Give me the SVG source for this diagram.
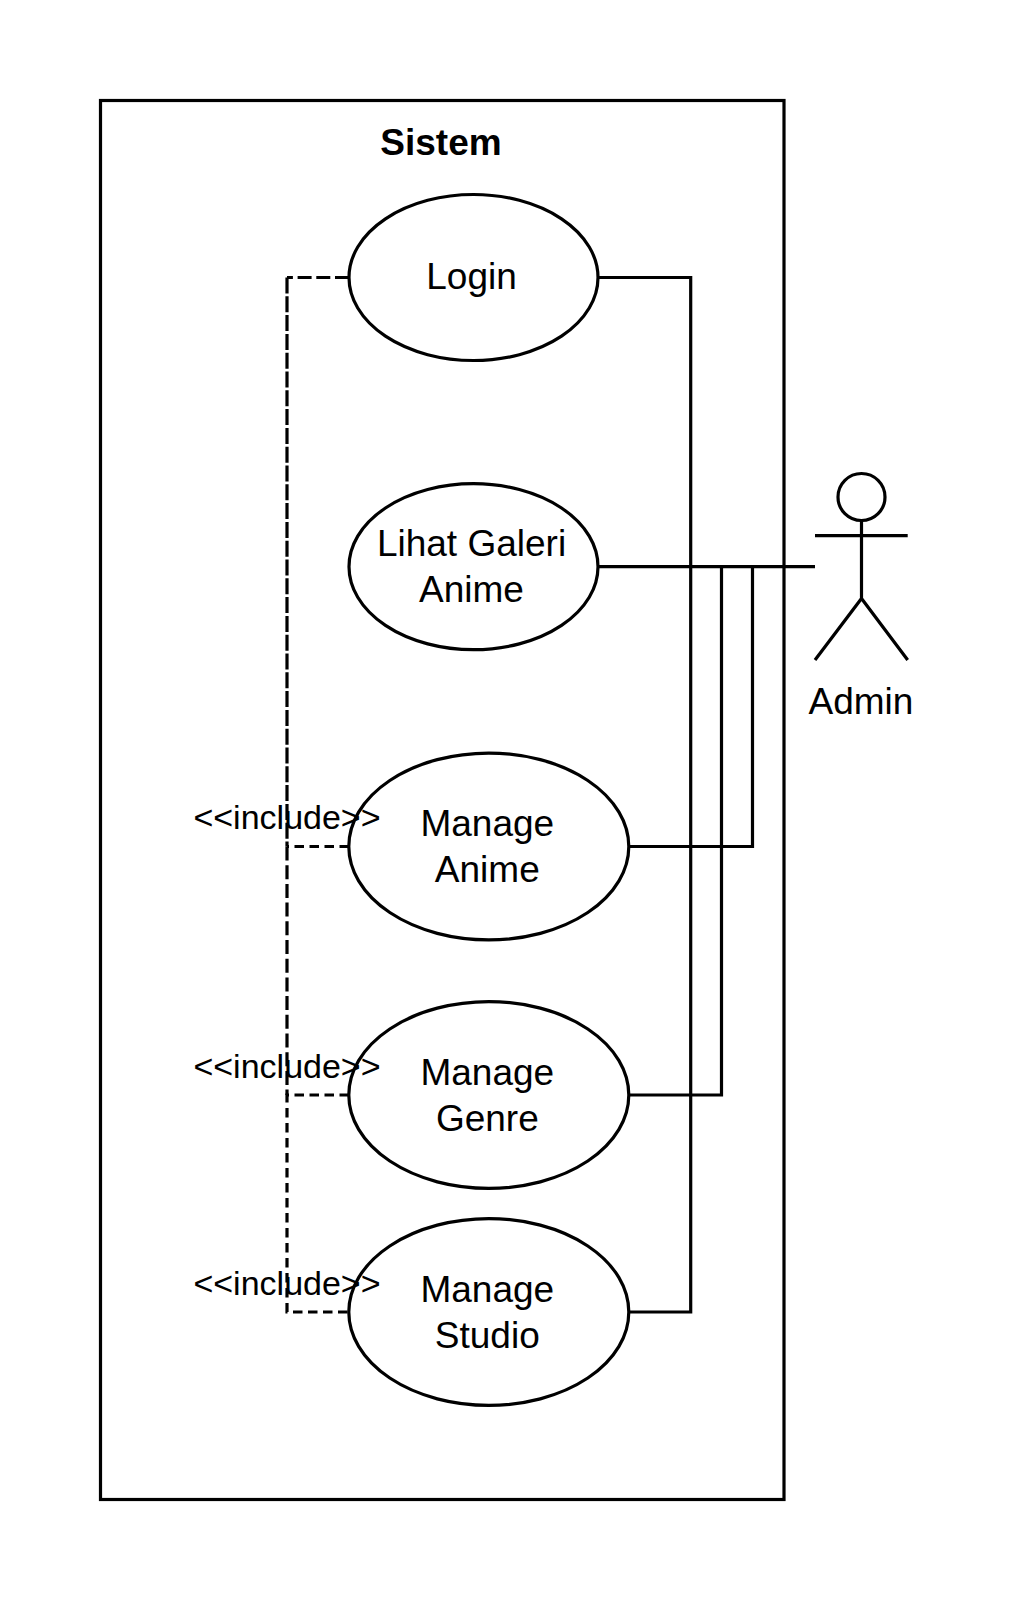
<svg xmlns="http://www.w3.org/2000/svg" width="1015" height="1600" viewBox="0 0 1015 1600">
<style>
text{font-family:"Liberation Sans",Arial,sans-serif;fill:#000;text-anchor:middle}
.s{fill:none;stroke:#000;stroke-width:3.200}
.e{fill:#fff;stroke:#000;stroke-width:3.200}
.d{fill:none;stroke:#000;stroke-width:3.200;stroke-dasharray:9.500 5.500}
.m{fill:none;stroke:#000;stroke-width:3.200;stroke-dasharray:14 4.700}
.l{fill:none;stroke:#000;stroke-width:3.200;stroke-dasharray:16 2.800}
.t{font-size:37px}
.i{font-size:34px}
</style>
<rect width="1015" height="1600" fill="#fff"/>
<g id="system"><rect class="s" x="100.500" y="100.500" width="683.500" height="1399"/>
<text x="441" y="155" font-size="37" font-weight="bold">Sistem</text></g>
<g id="connectors">
<path class="s" d="M598 277.500H690.700V1312H629.500"/>
<path class="s" d="M598 566.700H815"/>
<path class="s" d="M629.500 846.500H752.500V566.700"/>
<path class="s" d="M629.500 1095H721.500V566.700"/>
<path class="m" d="M349 277.500H287"/>
<path class="l" d="M287 277.500V846.500"/>
<path class="d" d="M349 846.500H287"/>
<path class="m" d="M287 846.500V1095"/>
<path class="d" d="M349 1095H287V1312H349"/>
</g>
<g id="login"><ellipse class="e" cx="473.500" cy="277.500" rx="124.500" ry="83"/><text class="t" x="471.500" y="289">Login</text></g>
<g id="galeri"><ellipse class="e" cx="473.500" cy="566.700" rx="124.500" ry="83"/><text class="t" x="471.500" y="556">Lihat Galeri</text><text class="t" x="471.500" y="602">Anime</text></g>
<g id="anime"><ellipse class="e" cx="488.800" cy="846.500" rx="140" ry="93.400"/><text class="t" x="487.300" y="836">Manage</text><text class="t" x="487.300" y="882">Anime</text></g>
<g id="genre"><ellipse class="e" cx="488.800" cy="1095" rx="140" ry="93.400"/><text class="t" x="487.300" y="1085">Manage</text><text class="t" x="487.300" y="1131">Genre</text></g>
<g id="studio"><ellipse class="e" cx="488.800" cy="1312" rx="140" ry="93.400"/><text class="t" x="487.300" y="1302">Manage</text><text class="t" x="487.300" y="1348">Studio</text></g>
<g id="labels">
<text class="i" x="287" y="829">&lt;&lt;include&gt;&gt;</text>
<text class="i" x="287" y="1078">&lt;&lt;include&gt;&gt;</text>
<text class="i" x="287" y="1295">&lt;&lt;include&gt;&gt;</text>
</g>
<g id="admin">
<circle class="s" cx="861.500" cy="497" r="23.500"/>
<path class="s" d="M861.500 520.500V598.500M815 535.700H907.700M815 660L861.500 598.500L907.700 660"/>
<text class="t" x="861" y="714">Admin</text>
</g>
</svg>
